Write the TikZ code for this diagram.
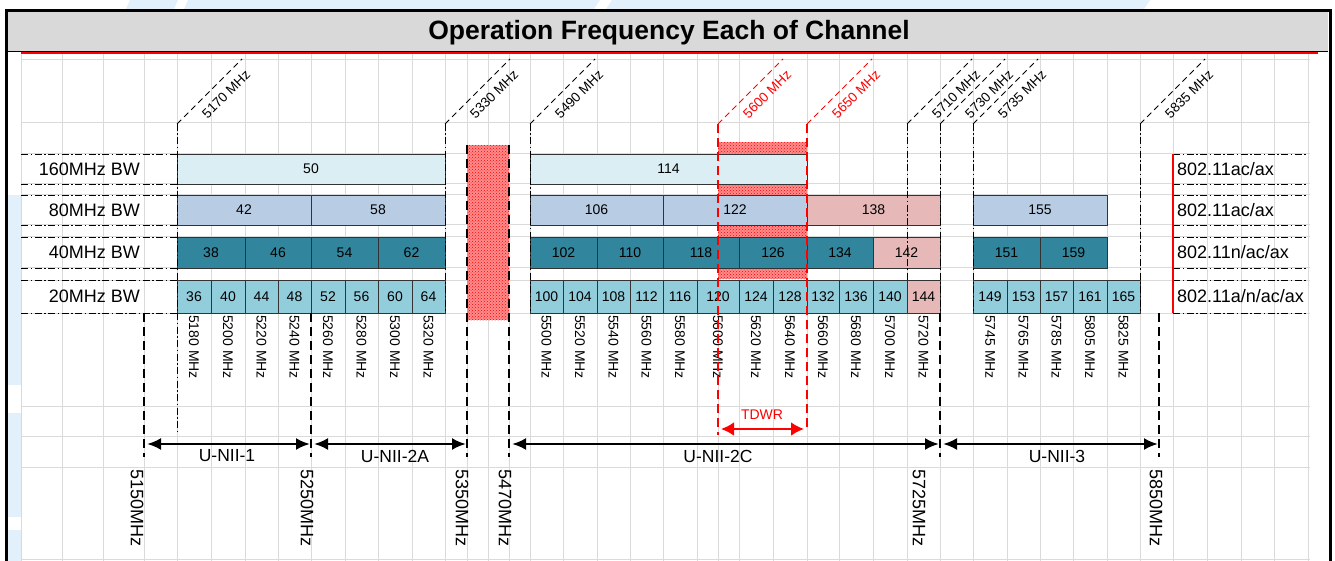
\documentclass[tikz,border=0pt]{standalone}
\usepackage{fontspec}
\setmainfont{Liberation Sans}
\usepackage{tikz}
\usetikzlibrary{arrows.meta,patterns}

\definecolor{hdrgray}{HTML}{D9D9D9}
\definecolor{gridgray}{HTML}{DADADA}
\definecolor{wmblue}{HTML}{E1F0FB}
\definecolor{bw160}{HTML}{DAEEF3}
\definecolor{bw80}{HTML}{B8CCE4}
\definecolor{bw40}{HTML}{31859C}
\definecolor{bw20}{HTML}{92CDDC}
\definecolor{dfs}{HTML}{E6B9B8}

\newcommand{\fsz}[1]{\fontsize{#1}{#1}\selectfont}

\tikzset{
  cellbox/.style={draw=black!80, line width=0.8pt, inner sep=0pt, font=\fsz{14}},
  freqlbl/.style={rotate=-90, anchor=west, inner sep=1pt, font=\fsz{14}},
  edgelbl/.style={rotate=-90, anchor=west, inner sep=0pt, font=\fsz{18}},
  diaglbl/.style={rotate=45, inner sep=0pt, font=\fsz{13.5}},
  bwlbl/.style={inner sep=0pt, font=\fsz{18}},
  unilbl/.style={inner sep=0pt, font=\fsz{17.5}},
  ddline/.style={line width=0.9pt, dash pattern=on 7pt off 2.5pt on 1.5pt off 2.5pt},
  edgeline/.style={line width=2.5pt, dash pattern=on 9pt off 5pt},
  tdwrline/.style={red, line width=2.5pt, dash pattern=on 9pt off 5pt},
  diagline/.style={line width=0.9pt, dash pattern=on 6pt off 4pt},
  bandarrow/.style={line width=2.5pt, shorten <=3pt, shorten >=1pt,
    {Latex[length=14pt,width=12pt]}-{Latex[length=14pt,width=12pt]}},
  tdwrarrow/.style={red, line width=2.5pt,
    {Latex[length=13pt,width=14pt]}-{Latex[length=13pt,width=14pt]}},
  hatch/.style={fill=red!45, postaction={pattern=crosshatch dots, pattern color=red}},
}

\begin{document}
\begin{tikzpicture}[x=1pt, y=-1pt]

      \useasboundingbox (0,0) rectangle (1335,561);
      \fill[white] (0,0) rectangle (1335,561);

      %watermark
      \fill[wmblue] (130,0) -- (178,0) -- (174,9) -- (126,9) -- cycle;
      \fill[wmblue] (188,0) -- (600,0) -- (594,9) -- (184,9) -- cycle;
      \fill[wmblue] (612,0) -- (1150,0) -- (1144,9) -- (606,9) -- cycle;
      \fill[wmblue] (8,195) rectangle (21,385);
      \fill[wmblue] (8,413) rectangle (21,517);
      \fill[wmblue] (8,530) rectangle (21,561);

      %Header
      \fill[hdrgray] (8,12) rectangle (1328,51);
      \draw[line width=1.2pt] (8,51.5) -- (1328,51.5);
      \draw[red, line width=2pt] (21,53) -- (1318,53);
      \node[anchor=base, inner sep=0pt, font=\fsz{26.5}\bfseries] (title) at (669,40)
            {Operation Frequency Each of Channel};

      %Frame
      \draw[line width=3.3pt] (6.5,561) -- (6.5,10.5) -- (1330.5,10.5) -- (1330.5,561);

      %Grid
      \foreach \gx in {21, 62, 103, 144, 177, 211, 245, 278, 311, 345, 378, 412, 445,
                       467, 488, 509, 530, 563, 597, 630, 663, 697, 718, 739, 773, 807,
                       839, 873, 907, 940, 973, 1007, 1040, 1073, 1107, 1140, 1173,
                       1207, 1241, 1274, 1308} {
        \draw[gridgray, line width=1pt] (\gx,54) -- (\gx,561);
      }
      \foreach \gy in {60, 123, 154, 184, 195, 225, 237, 268, 280, 313, 406, 436, 467, 559} {
        \draw[gridgray, line width=1pt] (21,\gy) -- (1310,\gy);
      }

      %Blocked ranges
      \fill[hatch] (467,145) rectangle (509,320);
      \fill[hatch] (718,142) rectangle (807,279);

      %160, 80 and 40MHz channels
      \foreach \ch/\xa/\xb/\ya/\yb/\col in {
          50/177/445/154/184/bw160, 114/530/807/154/184/bw160,
          42/177/311/195/225/bw80, 58/311/445/195/225/bw80, 106/530/663/195/225/bw80,
          122/663/807/195/225/bw80, 138/807/940/195/225/dfs, 155/973/1107/195/225/bw80,
          38/177/245/237/268/bw40, 46/245/311/237/268/bw40, 54/311/378/237/268/bw40,
          62/378/445/237/268/bw40, 102/530/597/237/268/bw40, 110/597/663/237/268/bw40,
          118/663/739/237/268/bw40, 126/739/807/237/268/bw40, 134/807/873/237/268/bw40,
          142/873/940/237/268/dfs, 151/973/1040/237/268/bw40, 159/1040/1107/237/268/bw40} {
        \node[cellbox, fill=\col, minimum width={(\xb-\xa)*1pt}, minimum height={(\yb-\ya)*1pt}]
              (ch\ch) at ({(\xa+\xb)/2},{(\ya+\yb)/2}) {\ch};
      }

      %20MHz channels
      \foreach \ch/\xa/\xb/\fq/\col in {
          36/177/211/5180/bw20, 40/211/245/5200/bw20, 44/245/278/5220/bw20,
          48/278/311/5240/bw20, 52/311/345/5260/bw20, 56/345/378/5280/bw20,
          60/378/412/5300/bw20, 64/412/445/5320/bw20,
          100/530/563/5500/bw20, 104/563/597/5520/bw20, 108/597/630/5540/bw20,
          112/630/663/5560/bw20, 116/663/697/5580/bw20, 120/697/739/5600/bw20,
          124/739/773/5620/bw20, 128/773/807/5640/bw20, 132/807/839/5660/bw20,
          136/839/873/5680/bw20, 140/873/907/5700/bw20, 144/907/940/5720/dfs,
          149/973/1007/5745/bw20, 153/1007/1040/5765/bw20, 157/1040/1073/5785/bw20,
          161/1073/1107/5805/bw20, 165/1107/1140/5825/bw20} {
        \node[cellbox, fill=\col, minimum width={(\xb-\xa)*1pt}, minimum height=33pt]
              (ch\ch) at ({(\xa+\xb)/2},296.5) {\ch};
        \node[freqlbl] (f\fq) at ({(\xa+\xb)/2},314) {\fq\ MHz};
      }

      %Row labels
      \foreach \bw/\ya/\yb in {160/154/184, 80/195/225, 40/237/268, 20/280/313} {
        \draw[ddline] (21,\ya) -- (177,\ya);
        \draw[ddline] (21,\yb) -- (177,\yb);
        \draw[ddline] (1173,\ya) -- (1308,\ya);
        \draw[ddline] (1173,\yb) -- (1308,\yb);
        \node[bwlbl, anchor=east] (bw\bw) at (140,{(\ya+\yb)/2}) {\bw MHz BW};
      }
      \node[bwlbl, anchor=west] (std160) at (1177,169) {802.11ac/ax};
      \node[bwlbl, anchor=west] (std80) at (1177,210) {802.11ac/ax};
      \node[bwlbl, anchor=west] (std40) at (1177,252.5) {802.11n/ac/ax};
      \node[bwlbl, anchor=west] (std20) at (1177,296.5) {802.11a/n/ac/ax};
      \draw[red, line width=1.6pt] (1173,154) -- (1173,313);

      %Channel edges
      \foreach \dx/\fq/\dcol/\vb/\vstyle in {177/5170/black/433/ddline,
          445/5330/black/313/ddline, 530/5490/black/313/ddline,
          718/5600/red/435/tdwrline, 807/5650/red/428/tdwrline,
          907/5710/black/280/ddline, 940/5730/black/313/ddline,
          973/5735/black/313/ddline, 1140/5835/black/313/ddline} {
        \coordinate (d\fq) at (\dx,124);
        \draw[diagline, draw=\dcol] (d\fq) -- ++(65,-65);
        \draw[\vstyle] (d\fq) -- (d\fq |- 0,\vb);
        \node[diaglbl, text=\dcol] (n\fq) at (\dx+49,94) {\fq\ MHz};
      }

      %Band edges
      \foreach \ename/\ex/\ey/\lx in {5150/144/313/137, 5250/311/313/307, 5350/467/145/462,
                                      5470/509/145/505, 5725/940/313/919, 5850/1159/313/1156} {
        \coordinate (top\ename) at (\ex,\ey);
        \coordinate (e\ename) at (\ex,444);
        \coordinate (bot\ename) at (\ex,457);
        \draw[edgeline] (top\ename) -- (bot\ename);
        \node[edgelbl] (lbl\ename) at (\lx,469) {\ename MHz};
      }

      %U-NII bands
      \draw[bandarrow] (e5150) -- (e5250);
      \draw[bandarrow] (e5250) -- (e5350);
      \draw[bandarrow] (e5470) -- (e5725);
      \draw[bandarrow] (e5725) -- (e5850);
      \node[unilbl] (unii1) at (227,456) {U-NII-1};
      \node[unilbl] (unii2a) at (395,456) {U-NII-2A};
      \node[unilbl] (unii2c) at (718,456) {U-NII-2C};
      \node[unilbl] (unii3) at (1057,456) {U-NII-3};

      %TDWR
      \coordinate (tdwrL) at (721,429);
      \coordinate (tdwrR) at (804,429);
      \draw[tdwrarrow] (tdwrL) -- (tdwrR);
      \node[inner sep=0pt, red, font=\fsz{14}] (tdwr) at (762,415) {TDWR};

\end{tikzpicture}
\end{document}
